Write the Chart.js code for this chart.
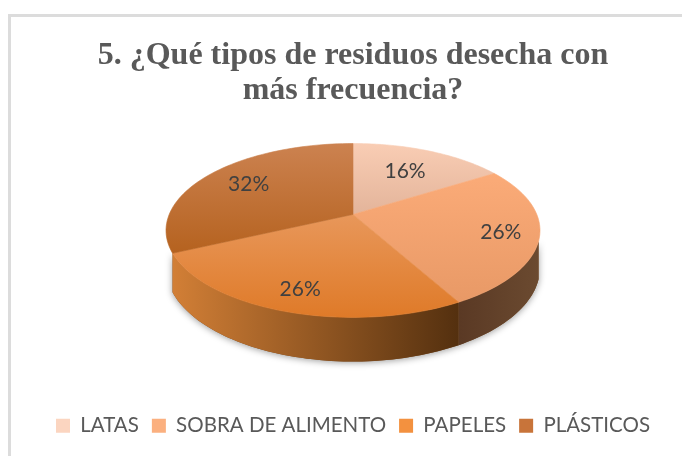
<!DOCTYPE html>
<html>
<head>
<meta charset="utf-8">
<script src="https://cdn.jsdelivr.net/npm/chart.js@4/dist/chart.umd.min.js"></script>
<style>
body { margin: 0; background: #fff; }
#frame { position: absolute; left: 8px; top: 14px; right: 0; bottom: 0; border-left: 3px solid #dcdcdc; border-top: 3px solid #dcdcdc; }
#wrap { position: absolute; left: 0; top: 0; width: 682px; height: 456px; }
</style>
</head>
<body>
<div id="frame"></div>
<div id="wrap"><canvas id="chart" width="682" height="456"></canvas></div>
<script>
var categories = ['LATAS', 'SOBRA DE ALIMENTO', 'PAPELES', 'PLÁSTICOS'];
var values = [16, 26, 26, 32];
var titleLines = ['5. ¿Qué tipos de residuos desecha con', 'más frecuencia?'];

var legendColors = ['#fbd5c0', '#fbb07f', '#f3913f', '#c8743a'];
var faceTop = ['#f9cdb4', '#fbab78', '#e8975a', '#cc8250'];
var faceBottom = ['#e3b49a', '#e89966', '#df7a28', '#b5621f'];
var wallLeft = ['#8a5a38', '#5a3924', '#d27f36', '#c87a36'];
var wallRight = ['#8a5a38', '#6b4a30', '#54300f', '#a8642c'];
var hasSide = [false, true, true, false];
var labelRadius = [0.65, 0.8, 0.8, 0.72];

// the pie is seen in perspective, these are ratios of the arc radius
var tilt = { rx: 1.838, ry: 0.84, k: 0.184, dy: -0.46, depth: 0.36, sideFrom: -0.3 };

function project(arc, r, angle) {
    var u = Math.cos(angle) * r, v = -Math.sin(angle) * r;
    var w = 1 + tilt.k * v;
    return {
        x: arc.x + arc.outerRadius * tilt.rx * u / w,
        y: arc.y + arc.outerRadius * (tilt.dy - tilt.ry * v / w),
        v: v,
        w: w
    };
}

function rim(arc) {
    var pts = [], steps = 60;
    for (var i = 0; i <= steps; i++) {
        pts.push(project(arc, 1, arc.startAngle + (arc.endAngle - arc.startAngle) * i / steps));
    }
    return pts;
}

function wallPath(ctx, arc, pts) {
    var d = arc.outerRadius * tilt.depth;
    ctx.beginPath();
    pts.forEach(function (p, n) {
        if (n === 0) ctx.moveTo(p.x, p.y);
        else ctx.lineTo(p.x, p.y);
    });
    pts.slice().reverse().forEach(function (p) { ctx.lineTo(p.x, p.y + d / p.w); });
    ctx.closePath();
}

function sidePoints(arc) {
    return rim(arc).filter(function (p) { return p.v < tilt.sideFrom; });
}

Chart.ArcElement.prototype.draw = function (ctx) {
    var pts = rim(this), c = project(this, 0, 0);
    var ys = pts.map(function (p) { return p.y; }).concat(c.y);
    var g = ctx.createLinearGradient(0, Math.min.apply(null, ys), 0, Math.max.apply(null, ys));
    var i = this.$context.dataIndex;
    g.addColorStop(0, faceTop[i]);
    g.addColorStop(1, faceBottom[i]);
    ctx.save();
    ctx.beginPath();
    ctx.moveTo(c.x, c.y);
    pts.forEach(function (p) { ctx.lineTo(p.x, p.y); });
    ctx.closePath();
    ctx.fillStyle = g;
    ctx.fill();
    ctx.strokeStyle = g;
    ctx.lineWidth = 0.6;
    ctx.stroke();
    ctx.restore();
};

var pieSides = {
    id: 'pieSides',
    beforeDatasetsDraw: function (chart) {
        var ctx = chart.ctx;
        var arcs = chart.getDatasetMeta(0).data;
        // soft shadow first, so it does not fall on the other sides
        arcs.forEach(function (arc, i) {
            if (!hasSide[i]) return;
            ctx.save();
            ctx.shadowColor = 'rgba(0,0,0,0.4)';
            ctx.shadowBlur = 7;
            ctx.shadowOffsetY = 1;
            wallPath(ctx, arc, sidePoints(arc));
            ctx.fillStyle = '#7a4a20';
            ctx.fill();
            ctx.restore();
        });
        arcs.forEach(function (arc, i) {
            if (!hasSide[i]) return;
            var pts = sidePoints(arc);
            var xs = pts.map(function (p) { return p.x; });
            var g = ctx.createLinearGradient(Math.min.apply(null, xs), 0, Math.max.apply(null, xs), 0);
            g.addColorStop(0, wallLeft[i]);
            g.addColorStop(1, wallRight[i]);
            wallPath(ctx, arc, pts);
            ctx.fillStyle = g;
            ctx.fill();
        });
    },
    afterDatasetsDraw: function (chart) {
        var ctx = chart.ctx;
        ctx.save();
        ctx.font = '21px Lato';
        ctx.fillStyle = '#404040';
        ctx.textAlign = 'center';
        ctx.textBaseline = 'middle';
        chart.getDatasetMeta(0).data.forEach(function (arc, i) {
            var mid = (arc.startAngle + arc.endAngle) / 2;
            var p = project(arc, labelRadius[i], mid);
            ctx.fillText(values[i] + '%', p.x, p.y);
        });
        ctx.restore();
    }
};

new Chart(document.getElementById('chart'), {
    type: 'pie',
    data: {
        labels: categories,
        datasets: [{ data: values, backgroundColor: legendColors, borderWidth: 0, radius: 100 }]
    },
    options: {
        responsive: false,
        animation: false,
        layout: { padding: { left: 34, right: 10, top: 38, bottom: 10 } },
        plugins: {
            tooltip: { enabled: false },
            title: {
                display: true,
                text: titleLines,
                color: '#595959',
                font: { family: 'Liberation Serif', size: 32, weight: 'bold', lineHeight: 1.1 },
                padding: { top: 0, bottom: 10 }
            },
            legend: {
                position: 'bottom',
                labels: {
                    color: '#595959',
                    font: { family: 'Lato', size: 20.5 },
                    boxWidth: 14,
                    boxHeight: 14,
                    padding: 13
                }
            }
        }
    },
    plugins: [pieSides]
});
</script>
</body>
</html>
